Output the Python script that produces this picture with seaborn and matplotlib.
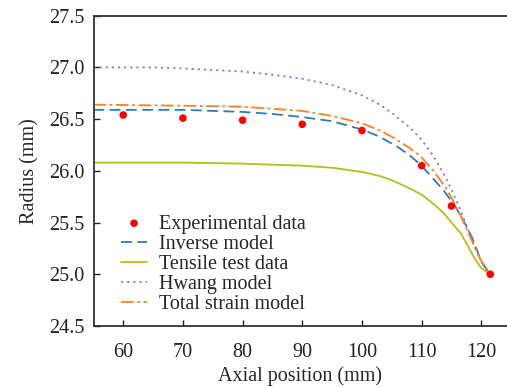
import numpy as np
import pandas as pd
import matplotlib
matplotlib.use("Agg")
import matplotlib.pyplot as plt
import seaborn as sns

# experimental points
exp_x = [60, 70, 80, 90, 100, 110, 115, 121.5]
exp_r = [26.54, 26.51, 26.49, 26.45, 26.39, 26.05, 25.66, 25.0]

# model curves
inv_x = [55, 70, 80, 85, 90, 95, 100, 103, 106, 108, 110, 112, 113.7, 115.7, 117, 118.4, 119.3, 120, 121.5]
inv_r = [26.59, 26.59, 26.57, 26.55, 26.52, 26.48, 26.40, 26.33, 26.23, 26.15, 26.05, 25.92, 25.81, 25.65, 25.52, 25.36, 25.23, 25.12, 25.0]

ten_x = [55, 70, 80, 90, 95, 100, 103, 105, 108, 110, 112, 113.7, 115, 116.5, 117.7, 118.7, 119.5, 120, 121.5]
ten_r = [26.08, 26.08, 26.07, 26.05, 26.03, 25.99, 25.95, 25.91, 25.83, 25.77, 25.68, 25.59, 25.50, 25.40, 25.28, 25.17, 25.10, 25.06, 25.0]

hw_x = [55, 65, 70, 80, 85, 90, 95, 100, 103, 105, 108, 110, 112, 114, 115, 116.5, 118, 119.2, 120, 121.5]
hw_r = [27.0, 27.0, 26.99, 26.96, 26.93, 26.89, 26.83, 26.73, 26.64, 26.56, 26.42, 26.30, 26.14, 25.94, 25.82, 25.62, 25.40, 25.23, 25.12, 25.0]

ts_x = [55, 70, 80, 85, 90, 95, 100, 103, 105, 108, 110, 112, 114, 115, 116.5, 118, 119.2, 120, 121.5]
ts_r = [26.64, 26.63, 26.62, 26.60, 26.58, 26.53, 26.46, 26.39, 26.33, 26.22, 26.13, 26.00, 25.84, 25.74, 25.57, 25.38, 25.22, 25.13, 25.0]

sns.set_style("ticks")
plt.rcParams['font.family'] = ['Liberation Serif', 'DejaVu Serif']
plt.rcParams['font.size'] = 14.5

fig = plt.figure(figsize=(5.07, 3.87), dpi=100)
ax = fig.add_axes([0.1854, 0.1576, 0.8146, 0.8018])

sns.scatterplot(x=exp_x, y=exp_r, ax=ax, color='#ff0000', s=30, edgecolor='none',
                label='Experimental data', zorder=5)
sns.lineplot(x=inv_x, y=inv_r, ax=ax, color='#2b7bba', lw=1.3, label='Inverse model')
ax.lines[-1].set_dashes([6, 3])
sns.lineplot(x=ten_x, y=ten_r, ax=ax, color='#b5bd1c', lw=1.3, label='Tensile test data')
sns.lineplot(x=hw_x, y=hw_r, ax=ax, color='#9a6fd0', lw=1.3, label='Hwang model')
ax.lines[-1].set_dashes([1.2, 2.2])
sns.lineplot(x=ts_x, y=ts_r, ax=ax, color='#ff7f1e', lw=1.3, label='Total strain model')
ax.lines[-1].set_dashes([7, 2, 1.5, 2])

ax.set_xlim(55.1, 124.3)
ax.set_ylim(24.5, 27.5)
ax.set_xticks([60, 70, 80, 90, 100, 110, 120])
ax.set_yticks([24.5, 25.0, 25.5, 26.0, 26.5, 27.0, 27.5])
ax.set_yticklabels(['24.5', '25.0', '25.5', '26.0', '26.5', '27.0', '27.5'])
ax.tick_params(direction='in', length=4, width=1, labelsize=14.5, colors='#222222')
ax.tick_params(axis='x', pad=12)
ax.tick_params(axis='y', pad=7)
for s in ['left', 'bottom', 'top']:
    ax.spines[s].set_linewidth(1.3)
    ax.spines[s].set_color('#333333')
ax.spines['right'].set_visible(False)

ax.set_xlabel('Axial position (mm)', fontsize=14.5, labelpad=3)
ax.set_ylabel('Radius (mm)', fontsize=14.5, labelpad=7)

ax.legend(loc='lower left', bbox_to_anchor=(0.036, 0.0), frameon=False, fontsize=14.5,
          handlelength=1.3, handletextpad=0.6, labelspacing=0.05, borderaxespad=0.2)

fig.savefig('out.png', dpi=100)
